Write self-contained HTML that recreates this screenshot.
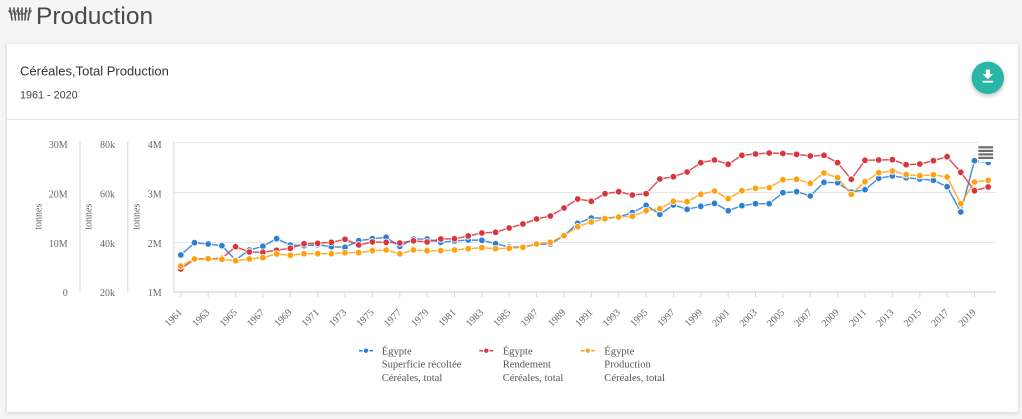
<!DOCTYPE html>
<html>
<head>
<meta charset="utf-8">
<style>
html,body{margin:0;padding:0;}
body{width:1022px;height:419px;overflow:hidden;background:#f5f5f5;}
svg{display:block;}
.sans{font-family:"Liberation Sans",Arial,sans-serif;}
.serif{font-family:"Liberation Serif","Times New Roman",serif;}
</style>
</head>
<body>
<svg width="1022" height="419" viewBox="0 0 1022 419" xmlns="http://www.w3.org/2000/svg">
<defs>
  <filter id="sh" x="-5%" y="-5%" width="110%" height="115%">
    <feDropShadow dx="0" dy="1" stdDeviation="2" flood-color="#000" flood-opacity="0.16"/>
  </filter>
  <filter id="bsh" x="-50%" y="-50%" width="200%" height="200%">
    <feDropShadow dx="0" dy="2" stdDeviation="2.5" flood-color="#000" flood-opacity="0.25"/>
  </filter>
  <marker id="mb" markerWidth="10" markerHeight="10" refX="5" refY="5" markerUnits="userSpaceOnUse">
    <circle cx="5" cy="5" r="3.3" fill="#2b7fd6" stroke="#fff" stroke-width="0.8"/>
  </marker>
  <marker id="mr" markerWidth="10" markerHeight="10" refX="5" refY="5" markerUnits="userSpaceOnUse">
    <circle cx="5" cy="5" r="3.3" fill="#d8353d" stroke="#fff" stroke-width="0.8"/>
  </marker>
  <marker id="mo" markerWidth="10" markerHeight="10" refX="5" refY="5" markerUnits="userSpaceOnUse">
    <circle cx="5" cy="5" r="3.3" fill="#ffa20f" stroke="#fff" stroke-width="0.8"/>
  </marker>
</defs>

<rect x="0" y="0" width="1022" height="419" fill="#f5f5f5"/>

<!-- header icon -->
<g stroke="#555" stroke-width="1.6" stroke-linecap="round" fill="none">
  <line x1="10" y1="8" x2="12" y2="20"/>
  <line x1="14" y1="8" x2="15.5" y2="20"/>
  <line x1="18" y1="8" x2="19" y2="20"/>
  <line x1="22" y1="8" x2="22" y2="20"/>
  <line x1="26" y1="8" x2="25" y2="20"/>
  <line x1="30" y1="8" x2="28" y2="20"/>
  <line x1="9" y1="11" x2="12" y2="14"/>
  <line x1="13" y1="11" x2="16" y2="14"/>
  <line x1="17" y1="11" x2="20" y2="14"/>
  <line x1="21" y1="11" x2="23" y2="14"/>
  <line x1="27" y1="11" x2="24.5" y2="14"/>
  <line x1="31" y1="11" x2="28.5" y2="14"/>
</g>
<text x="36" y="24" class="sans" font-size="24.5" fill="#4a4a4a">Production</text>

<!-- card -->
<rect x="7" y="44" width="1011" height="368" fill="#ffffff" filter="url(#sh)"/>
<text x="20" y="75.5" class="sans" font-size="13" fill="#333">Céréales,Total Production</text>
<text x="20" y="98.7" class="sans" font-size="10.8" fill="#444">1961 - 2020</text>
<line x1="7" y1="119.5" x2="1018" y2="119.5" stroke="#e6e6e6" stroke-width="1"/>

<!-- download button -->
<circle cx="987.8" cy="77.8" r="16.2" fill="#2ab5a7" filter="url(#bsh)"/>
<rect x="985.7" y="69.5" width="4.2" height="5" fill="#fff"/>
<polygon points="982.5,74 993,74 987.8,79.3" fill="#fff"/>
<rect x="982.7" y="80.8" width="10.2" height="1.8" fill="#fff"/>

<!-- y axes lines -->
<g stroke="#e3e3e3" stroke-width="1.5">
  <line x1="80" y1="142" x2="80" y2="292"/>
  <line x1="127.7" y1="142" x2="127.7" y2="292"/>
  <line x1="173.8" y1="142" x2="173.8" y2="292"/>
</g>

<!-- gridlines -->
<g stroke="#e6e6e6" stroke-width="1">
  <line x1="174" y1="142.5" x2="996" y2="142.5"/>
  <line x1="174" y1="192.5" x2="996" y2="192.5"/>
  <line x1="174" y1="242.5" x2="996" y2="242.5"/>
</g>
<line x1="174" y1="292" x2="996" y2="292" stroke="#d8d8d8" stroke-width="1.2"/>

<!-- x ticks -->
<g stroke="#d8d8d8" stroke-width="1">
  <line x1="180.8" y1="292" x2="180.8" y2="297"/>
  <line x1="208.2" y1="292" x2="208.2" y2="297"/>
  <line x1="235.6" y1="292" x2="235.6" y2="297"/>
  <line x1="262.9" y1="292" x2="262.9" y2="297"/>
  <line x1="290.3" y1="292" x2="290.3" y2="297"/>
  <line x1="317.7" y1="292" x2="317.7" y2="297"/>
  <line x1="345" y1="292" x2="345" y2="297"/>
  <line x1="372.4" y1="292" x2="372.4" y2="297"/>
  <line x1="399.8" y1="292" x2="399.8" y2="297"/>
  <line x1="427.1" y1="292" x2="427.1" y2="297"/>
  <line x1="454.5" y1="292" x2="454.5" y2="297"/>
  <line x1="481.9" y1="292" x2="481.9" y2="297"/>
  <line x1="509.2" y1="292" x2="509.2" y2="297"/>
  <line x1="536.6" y1="292" x2="536.6" y2="297"/>
  <line x1="564" y1="292" x2="564" y2="297"/>
  <line x1="591.3" y1="292" x2="591.3" y2="297"/>
  <line x1="618.7" y1="292" x2="618.7" y2="297"/>
  <line x1="646.1" y1="292" x2="646.1" y2="297"/>
  <line x1="673.4" y1="292" x2="673.4" y2="297"/>
  <line x1="700.8" y1="292" x2="700.8" y2="297"/>
  <line x1="728.2" y1="292" x2="728.2" y2="297"/>
  <line x1="755.5" y1="292" x2="755.5" y2="297"/>
  <line x1="782.9" y1="292" x2="782.9" y2="297"/>
  <line x1="810.3" y1="292" x2="810.3" y2="297"/>
  <line x1="837.6" y1="292" x2="837.6" y2="297"/>
  <line x1="865" y1="292" x2="865" y2="297"/>
  <line x1="892.4" y1="292" x2="892.4" y2="297"/>
  <line x1="919.8" y1="292" x2="919.8" y2="297"/>
  <line x1="947.1" y1="292" x2="947.1" y2="297"/>
  <line x1="974.5" y1="292" x2="974.5" y2="297"/>
</g>

<!-- y labels -->
<g class="serif" font-size="10" fill="#666" text-anchor="end">
  <text x="67.7" y="148">30M</text>
  <text x="67.7" y="197.5">20M</text>
  <text x="67.7" y="247">10M</text>
  <text x="67.7" y="296">0</text>
  <text x="115" y="148">80k</text>
  <text x="115" y="197.5">60k</text>
  <text x="115" y="247">40k</text>
  <text x="115" y="296">20k</text>
  <text x="161.7" y="148">4M</text>
  <text x="161.7" y="197.5">3M</text>
  <text x="161.7" y="247">2M</text>
  <text x="161.7" y="296">1M</text>
</g>
<g class="serif" font-size="10" fill="#666" text-anchor="middle">
  <text transform="translate(41.5,216.7) rotate(-90)">tonnes</text>
  <text transform="translate(91.5,216.7) rotate(-90)">tonnes</text>
  <text transform="translate(139.5,216.7) rotate(-90)">tonnes</text>
</g>

<!-- x labels -->
<g class="serif" font-size="10" fill="#666" text-anchor="end">
  <text transform="translate(182.8,313) rotate(-45)">1961</text>
  <text transform="translate(210.2,313) rotate(-45)">1963</text>
  <text transform="translate(237.6,313) rotate(-45)">1965</text>
  <text transform="translate(264.9,313) rotate(-45)">1967</text>
  <text transform="translate(292.3,313) rotate(-45)">1969</text>
  <text transform="translate(319.7,313) rotate(-45)">1971</text>
  <text transform="translate(347,313) rotate(-45)">1973</text>
  <text transform="translate(374.4,313) rotate(-45)">1975</text>
  <text transform="translate(401.8,313) rotate(-45)">1977</text>
  <text transform="translate(429.1,313) rotate(-45)">1979</text>
  <text transform="translate(456.5,313) rotate(-45)">1981</text>
  <text transform="translate(483.9,313) rotate(-45)">1983</text>
  <text transform="translate(511.2,313) rotate(-45)">1985</text>
  <text transform="translate(538.6,313) rotate(-45)">1987</text>
  <text transform="translate(566,313) rotate(-45)">1989</text>
  <text transform="translate(593.3,313) rotate(-45)">1991</text>
  <text transform="translate(620.7,313) rotate(-45)">1993</text>
  <text transform="translate(648.1,313) rotate(-45)">1995</text>
  <text transform="translate(675.4,313) rotate(-45)">1997</text>
  <text transform="translate(702.8,313) rotate(-45)">1999</text>
  <text transform="translate(730.2,313) rotate(-45)">2001</text>
  <text transform="translate(757.5,313) rotate(-45)">2003</text>
  <text transform="translate(784.9,313) rotate(-45)">2005</text>
  <text transform="translate(812.3,313) rotate(-45)">2007</text>
  <text transform="translate(839.6,313) rotate(-45)">2009</text>
  <text transform="translate(867,313) rotate(-45)">2011</text>
  <text transform="translate(894.4,313) rotate(-45)">2013</text>
  <text transform="translate(921.8,313) rotate(-45)">2015</text>
  <text transform="translate(949.1,313) rotate(-45)">2017</text>
  <text transform="translate(976.5,313) rotate(-45)">2019</text>
</g>

<!-- series -->
<polyline fill="none" stroke="#2b7fd6" stroke-opacity="0.85" stroke-width="1.5" stroke-linejoin="round"
 marker-start="url(#mb)" marker-mid="url(#mb)" marker-end="url(#mb)"
 points="180.8,255 194.5,242.7 208.2,244 221.9,245.7 235.6,260 249.3,250 262.9,246.3 276.6,238.7 290.3,245 304,245.7 317.7,244.7 331.4,246.7 345,247.3 358.7,240.7 372.4,238.7 386.1,237.3 399.8,246.5 413.5,239 427.1,239 440.8,242.3 454.5,241 468.2,240 481.9,240.3 495.6,243.7 509.2,247 522.9,247.3 536.6,244.3 550.3,244 564,235.7 577.7,223.3 591.3,218 605,218 618.7,217 632.4,212.7 646.1,205.3 659.8,214.3 673.4,205 687.1,209.3 700.8,206.3 714.5,203.3 728.2,210.7 741.9,205.7 755.5,203.7 769.2,203.7 782.9,192.7 796.6,191.7 810.3,196 824,182.3 837.6,182.7 851.3,192 865,189.7 878.7,178.3 892.4,176 906.1,177.7 919.8,179 933.4,180.3 947.1,186.7 960.8,212 974.5,160.7 988.2,162.5"/>
<polyline fill="none" stroke="#d8353d" stroke-opacity="0.85" stroke-width="1.5" stroke-linejoin="round"
 marker-start="url(#mr)" marker-mid="url(#mr)" marker-end="url(#mr)"
 points="180.8,269 194.5,259 208.2,259 221.9,258.3 235.6,246.7 249.3,252 262.9,252.3 276.6,250.3 290.3,248.3 304,243.7 317.7,243.3 331.4,242.3 345,239.3 358.7,245 372.4,242 386.1,242.3 399.8,243 413.5,240.8 427.1,242 440.8,239 454.5,238.8 468.2,236 481.9,233 495.6,232.3 509.2,228 522.9,224 536.6,219 550.3,216 564,208 577.7,199 591.3,201.3 605,193.7 618.7,191.7 632.4,195 646.1,193.7 659.8,179 673.4,176.7 687.1,172 700.8,162.7 714.5,160 728.2,164.3 741.9,155.3 755.5,154 769.2,153 782.9,153.5 796.6,154.3 810.3,156 824,155.3 837.6,162.7 851.3,179.3 865,160.3 878.7,160 892.4,159.7 906.1,164.7 919.8,164 933.4,160.7 947.1,156.7 960.8,172.3 974.5,190.7 988.2,187"/>
<polyline fill="none" stroke="#ffa20f" stroke-opacity="0.85" stroke-width="1.5" stroke-linejoin="round"
 marker-start="url(#mo)" marker-mid="url(#mo)" marker-end="url(#mo)"
 points="180.8,266 194.5,259 208.2,258.7 221.9,259.3 235.6,260.7 249.3,259 262.9,257.7 276.6,254 290.3,255.3 304,253.7 317.7,253.7 331.4,253.7 345,252.7 358.7,252.7 372.4,250.7 386.1,250 399.8,253.8 413.5,250 427.1,250.7 440.8,250.7 454.5,250 468.2,248.7 481.9,247.7 495.6,248.7 509.2,248.3 522.9,247.3 536.6,244 550.3,242.3 564,235.7 577.7,226.7 591.3,222 605,218.7 618.7,217 632.4,216.3 646.1,210.7 659.8,208.7 673.4,201.3 687.1,201.7 700.8,194.3 714.5,191 728.2,198.7 741.9,190.7 755.5,188.3 769.2,187.7 782.9,179.7 796.6,179.3 810.3,183.3 824,173 837.6,177.7 851.3,194.3 865,181.7 878.7,172.7 892.4,171 906.1,174.7 919.8,175.7 933.4,174.7 947.1,177 960.8,203.7 974.5,182 988.2,180.3"/>

<!-- context menu button -->
<rect x="979" y="140" width="18" height="22" fill="#ffffff"/>
<g fill="#6e6e6e">
  <rect x="978.3" y="146.2" width="14.8" height="2.2"/>
  <rect x="978.3" y="149.8" width="14.8" height="2.2"/>
  <rect x="978.3" y="153.3" width="14.8" height="2.2"/>
  <rect x="978.3" y="156.8" width="14.8" height="2.2"/>
</g>

<!-- legend -->
<g stroke-width="1.5">
  <line x1="359" y1="350.7" x2="373" y2="350.7" stroke="#2b7fd6"/>
  <line x1="479.3" y1="350.7" x2="493.3" y2="350.7" stroke="#d8353d"/>
  <line x1="580.7" y1="350.7" x2="594.7" y2="350.7" stroke="#ffa20f"/>
</g>
<circle cx="366" cy="350.7" r="2.8" fill="#2b7fd6" stroke="#fff" stroke-width="1.2"/>
<circle cx="486.3" cy="350.7" r="2.8" fill="#d8353d" stroke="#fff" stroke-width="1.2"/>
<circle cx="587.7" cy="350.7" r="2.8" fill="#ffa20f" stroke="#fff" stroke-width="1.2"/>
<g class="serif" font-size="10.6" fill="#555">
  <text x="381.7" y="354.3">Égypte</text>
  <text x="381.7" y="367.7">Superficie récoltée</text>
  <text x="381.7" y="381.2">Céréales, total</text>
  <text x="502.7" y="354.3">Égypte</text>
  <text x="502.7" y="367.7">Rendement</text>
  <text x="502.7" y="381.2">Céréales, total</text>
  <text x="604.3" y="354.3">Égypte</text>
  <text x="604.3" y="367.7">Production</text>
  <text x="604.3" y="381.2">Céréales, total</text>
</g>
</svg>
</body>
</html>
